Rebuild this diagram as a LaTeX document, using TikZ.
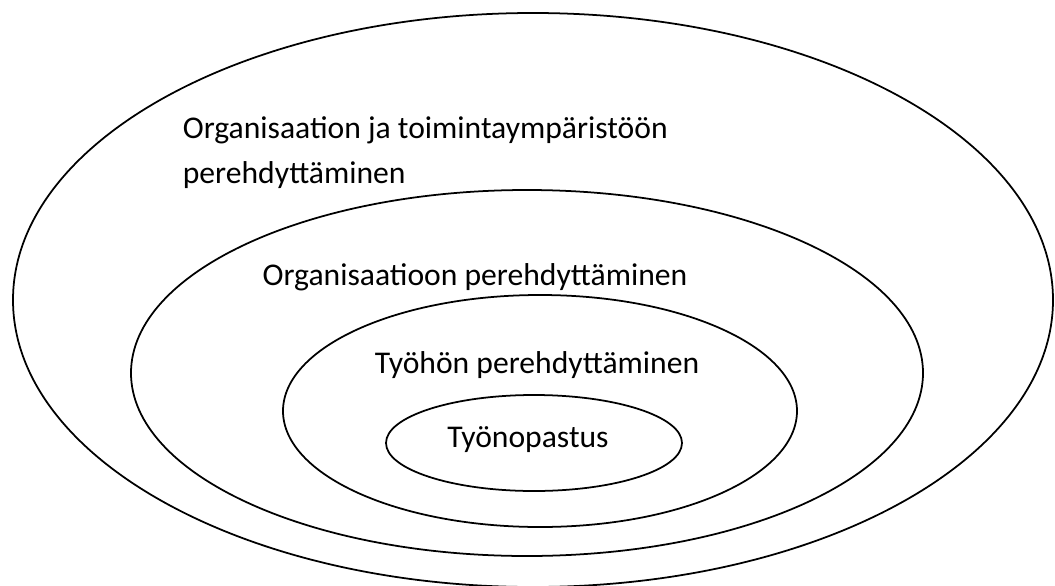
\documentclass[tikz,border=0pt]{standalone}
\usepackage{fontspec}
\setmainfont{Carlito}

\begin{document}
\begin{tikzpicture}[x=0.02cm,y=-0.02cm,line width=1pt]
\tikzset{level/.style={font=\fontsize{18}{25.5}\selectfont,inner sep=0pt,anchor=base}}
\useasboundingbox (0,0) rectangle (1055,585);
\draw (533,300) ellipse [x radius=520,y radius=287];
\draw (527,373) ellipse [x radius=396,y radius=183];
\draw (540,411) ellipse [x radius=257,y radius=116];
\draw (534,443) ellipse [x radius=148,y radius=48];
\node [level,anchor=base west,align=left] (env) at (182,183) {Organisaation ja toimintaympäristöön\\perehdyttäminen};
\node [level] (org) at (475,285) {Organisaatioon perehdyttäminen};
\node [level] (work) at (537,373) {Työhön perehdyttäminen};
\node [level] (guide) at (528,447) {Työnopastus};
\end{tikzpicture}
\end{document}
